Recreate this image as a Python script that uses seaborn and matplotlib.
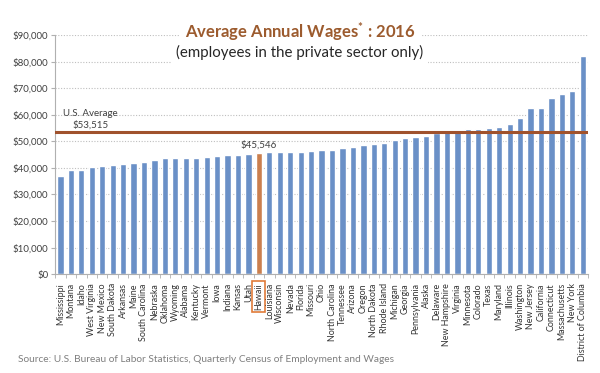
import numpy as np
import pandas as pd
import seaborn as sns
import matplotlib.pyplot as plt

# average annual wages 2016, private sector, sorted low to high
states = ["Mississippi", "Montana", "Idaho", "West Virginia", "New Mexico", "South Dakota",
          "Arkansas", "Maine", "South Carolina", "Nebraska", "Oklahoma", "Wyoming", "Alabama",
          "Kentucky", "Vermont", "Iowa", "Indiana", "Kansas", "Utah", "Hawaii", "Louisiana",
          "Wisconsin", "Nevada", "Florida", "Missouri", "Ohio", "North Carolina", "Tennessee",
          "Arizona", "Oregon", "North Dakota", "Rhode Island", "Michigan", "Georgia",
          "Pennsylvania", "Alaska", "Delaware", "New Hampshire", "Virginia", "Minnesota",
          "Colorado", "Texas", "Maryland", "Illinois", "Washington", "New Jersey", "California",
          "Connecticut", "Massachusetts", "New York", "District of Columbia"]
wages = [37000, 39300, 39300, 40500, 40800, 41000, 41300, 42000, 42200, 43000, 43700, 43700,
         43900, 43900, 44100, 44300, 44700, 44700, 45400, 45546, 45800, 45800, 45900, 46100,
         46300, 46900, 46900, 47300, 47800, 48500, 48900, 49300, 50400, 51200, 51800, 52000,
         53300, 53700, 54000, 54500, 54700, 55000, 55500, 56600, 58900, 62400, 62400, 66400,
         67900, 69000, 82200]
us_average = 53515
highlight = "Hawaii"

sns.set_style("white")
plt.rcParams['font.family'] = ['Lato', 'DejaVu Sans']
plt.rcParams['mathtext.default'] = 'regular'

df = pd.DataFrame({"state": states, "wage": wages})
colors = {s: ("#E07B39" if s == highlight else "#5B8DD6") for s in states}

fig = plt.figure(figsize=(6, 3.73), dpi=100)
ax = fig.add_axes([0.092, 0.265, 0.888, 0.641])

sns.barplot(data=df, x="state", y="wage", hue="state", palette=colors, legend=False,
            width=0.6, ax=ax, zorder=2)

ax.set_ylim(0, 90000)
ax.set_xlim(-0.5, len(states) - 0.5)
ax.set_yticks(np.arange(0, 90001, 10000))
ax.set_yticklabels([f"${v:,.0f}" for v in np.arange(0, 90001, 10000)], fontsize=7, color="#404040")
ax.grid(axis="y", linestyle=(0, (1, 1.5)), color="#BFBFBF", linewidth=0.8, zorder=0)
ax.set_xlabel("")
ax.set_ylabel("")
for side in ["top", "right"]:
    ax.spines[side].set_visible(False)
for side in ["left", "bottom"]:
    ax.spines[side].set_color("#B0B0B0")
ax.tick_params(axis="y", left=True, length=3, color="#B0B0B0", pad=2)
ax.set_xticks(np.arange(len(states)))
ax.set_xticklabels(states, rotation=90, fontsize=6.4, color="#333333")
ax.tick_params(axis="x", bottom=False, pad=3)
ax.set_xticks(np.arange(len(states) + 1) - 0.5, minor=True)
ax.tick_params(axis="x", which="minor", bottom=True, length=3, color="#B0B0B0")

# highlight box around label
for lbl in ax.get_xticklabels():
    if lbl.get_text() == highlight:
        lbl.set_bbox(dict(facecolor="none", edgecolor="#E07B39", linewidth=1.2, pad=1.5))

# US average line
ax.axhline(us_average, color="#A0522D", linewidth=2.2, zorder=3)
ax.text(0.2, 60500, "U.S. Average", fontsize=7, color="#404040", ha="left", va="center")
ax.text(1.2, 56000, f"${us_average:,}", fontsize=7, color="#404040", ha="left", va="center")

hi = states.index(highlight)
ax.text(hi, wages[hi] + 1200, f"${wages[hi]:,}", fontsize=7, color="#404040", ha="center", va="bottom")

fig.text(0.5, 0.914, r"Average Annual Wages$^{*}$ : 2016", fontsize=12, fontweight="bold",
         color="#9C5B2E", ha="center", va="center",
         bbox=dict(facecolor="white", edgecolor="none", pad=4), zorder=5)
fig.text(0.5, 0.858, "(employees in the private sector only)", fontsize=10.8, color="#262626",
         ha="center", va="center", bbox=dict(facecolor="white", edgecolor="none", pad=3), zorder=5)

fig.text(0.03, 0.035, "Source: U.S. Bureau of Labor Statistics, Quarterly Census of Employment and Wages",
         fontsize=7.3, color="#7F7F7F", ha="left", va="center")

fig.savefig("out.png", dpi=100)
